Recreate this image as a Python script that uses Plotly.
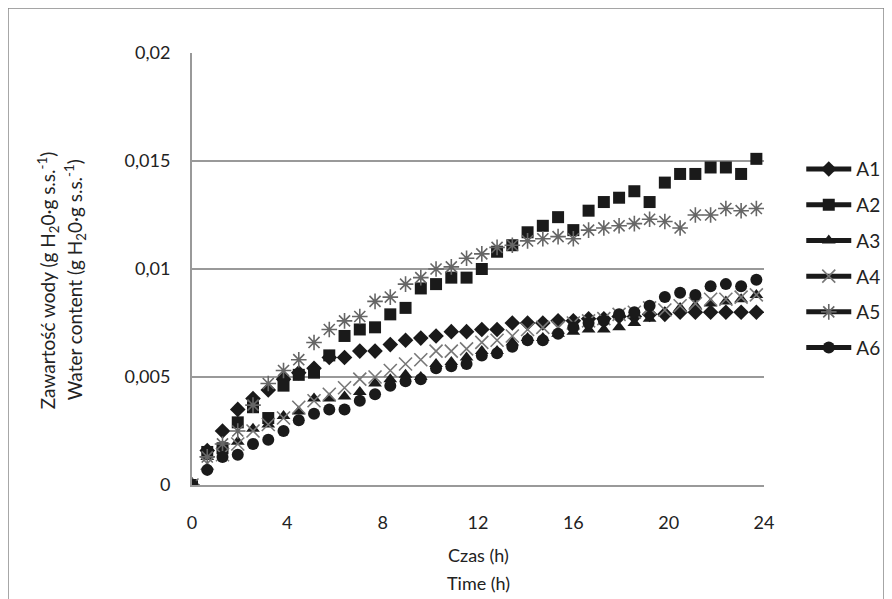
import plotly.graph_objects as go

# time points (h)
time_h = [round(i * 0.64, 2) for i in range(38)]

A1 = [0, 0.0016, 0.0025, 0.0035, 0.0040, 0.0044, 0.0049, 0.0052, 0.0054, 0.0059,
      0.0059, 0.0062, 0.0062, 0.0065, 0.0067, 0.0068, 0.0069, 0.0071, 0.0071, 0.0072,
      0.0072, 0.0075, 0.0075, 0.0075, 0.0076, 0.0076, 0.0077, 0.0077, 0.0078, 0.0078,
      0.0079, 0.0079, 0.0080, 0.0080, 0.0080, 0.0080, 0.0080, 0.0080]
A2 = [0, 0.00153, 0.0017, 0.0029, 0.0036, 0.0031, 0.0046, 0.0051, 0.0052, 0.0060,
      0.0069, 0.0072, 0.0073, 0.0079, 0.0082, 0.0091, 0.0093, 0.0096, 0.0096, 0.0100,
      0.0108, 0.0111, 0.0117, 0.0120, 0.0124, 0.0118, 0.0127, 0.0131, 0.0133, 0.0136,
      0.0131, 0.0140, 0.0144, 0.0144, 0.0147, 0.0147, 0.0144, 0.0151]
A3 = [0, 0.0013, 0.0018, 0.0020, 0.0026, 0.0028, 0.0032, 0.0034, 0.0040, 0.0040,
      0.0041, 0.0043, 0.0047, 0.0049, 0.0051, 0.0050, 0.0056, 0.0057, 0.0059, 0.0062,
      0.0062, 0.0066, 0.0068, 0.0068, 0.0070, 0.0071, 0.0072, 0.0072, 0.0073, 0.0075,
      0.0077, 0.0080, 0.0082, 0.0083, 0.0084, 0.0085, 0.0086, 0.0088]
A4 = [0, 0.0010, 0.0014, 0.0019, 0.0025, 0.0028, 0.0031, 0.0036, 0.0039, 0.0042,
      0.0045, 0.0049, 0.0050, 0.0053, 0.0056, 0.0058, 0.0062, 0.0062, 0.0063, 0.0066,
      0.0067, 0.0069, 0.0072, 0.0073, 0.0073, 0.0075, 0.0076, 0.0077, 0.0079, 0.0080,
      0.0082, 0.0081, 0.0083, 0.0084, 0.0086, 0.0086, 0.0087, 0.0088]
A5 = [0, 0.0013, 0.0019, 0.0025, 0.0037, 0.0047, 0.0053, 0.0058, 0.0066, 0.0072,
      0.0076, 0.0078, 0.0085, 0.0087, 0.0093, 0.0096, 0.0100, 0.0101, 0.0105, 0.0107,
      0.0110, 0.0111, 0.0113, 0.0114, 0.0115, 0.0114, 0.0118, 0.0119, 0.0120, 0.0121,
      0.0123, 0.0122, 0.0119, 0.0125, 0.0125, 0.0128, 0.0127, 0.0128]
A6 = [0, 0.0007, 0.0013, 0.0014, 0.0019, 0.0021, 0.0025, 0.0030, 0.0033, 0.0035,
      0.0035, 0.0039, 0.0042, 0.0046, 0.0048, 0.0049, 0.0054, 0.0055, 0.0056, 0.0060,
      0.0061, 0.0064, 0.0067, 0.0067, 0.0070, 0.0073, 0.0075, 0.0076, 0.0079, 0.0080,
      0.0083, 0.0087, 0.0089, 0.0088, 0.0092, 0.0093, 0.0092, 0.0095]

series_names = ["A1", "A2", "A3", "A4", "A5", "A6"]
series_values = [A1, A2, A3, A4, A5, A6]

x_ticks = [0, 4, 8, 12, 16, 20, 24]
y_tickvals = [0, 0.005, 0.01, 0.015, 0.02]
y_ticktext = ["0", "0,005", "0,01", "0,015", "0,02"]

styles = {
    "A1": dict(symbol="diamond", size=12, color="#1a1a1a", line=dict(width=0)),
    "A2": dict(symbol="square", size=12, color="#1a1a1a", line=dict(width=0)),
    "A3": dict(symbol="triangle-up", size=12, color="#1a1a1a", line=dict(width=0)),
    "A4": dict(symbol="x-thin", size=13, color="#777777", line=dict(width=1.6, color="#777777")),
    "A5": dict(symbol="asterisk", size=13, color="#666666", line=dict(width=1.6, color="#666666")),
    "A6": dict(symbol="circle", size=12, color="#1a1a1a", line=dict(width=0)),
}

FONT = "Lato, 'Open Sans', sans-serif"

fig = go.Figure()
for name, vals in zip(series_names, series_values):
    fig.add_trace(go.Scatter(x=time_h, y=vals, mode="markers", name=name,
                             marker=styles[name], showlegend=False))
# legend entries (line + marker like the original)
for name in series_names:
    st = dict(styles[name])
    fig.add_trace(go.Scatter(x=[None], y=[None], mode="lines+markers", name=name,
                             legendgroup=name,
                             line=dict(color="#1a1a1a", width=5),
                             marker=st, showlegend=True))

fig.update_layout(
    width=892, height=599,
    margin=dict(l=184, r=136, t=45, b=122),
    paper_bgcolor="white", plot_bgcolor="white",
    font=dict(family=FONT, size=17, color="#222222"),
    showlegend=True,
    legend=dict(x=1.212, y=0.775, xanchor="right", yanchor="top",
                font=dict(family=FONT, size=19, color="#222222"),
                tracegroupgap=8, itemwidth=45, bgcolor="rgba(0,0,0,0)"),
    xaxis=dict(range=[0, 24], tickvals=x_ticks, showgrid=False, zeroline=False,
               showline=True, linecolor="#999999", linewidth=2, ticks="",
               ticklabelstandoff=20, tickfont=dict(size=18)),
    yaxis=dict(range=[0, 0.02], tickvals=y_tickvals, ticktext=y_ticktext,
               showgrid=True, gridcolor="#999999", gridwidth=2, zeroline=False,
               showline=True, linecolor="#999999", linewidth=2, ticks="",
               ticklabelstandoff=16, tickfont=dict(size=18)),
    annotations=[
        dict(text="Czas (h)", x=0.5, y=-0.162, xref="paper", yref="paper",
             xanchor="center", yanchor="middle",
             showarrow=False, font=dict(size=18)),
        dict(text="Time (h)", x=0.5, y=-0.227, xref="paper", yref="paper",
             xanchor="center", yanchor="middle",
             showarrow=False, font=dict(size=18)),
        dict(text="Zawartość wody (g H<sub>2</sub>0·g s.s.<sup>-1</sup>)", x=-0.2517, y=0.474,
             xref="paper", yref="paper", xanchor="center", yanchor="middle",
             showarrow=False, textangle=-90, font=dict(size=19)),
        dict(text="Water content (g H<sub>2</sub>0·g s.s.<sup>-1</sup>)", x=-0.2045, y=0.474,
             xref="paper", yref="paper", xanchor="center", yanchor="middle",
             showarrow=False, textangle=-90, font=dict(size=19)),
    ],
    shapes=[dict(type="rect", xref="paper", yref="paper",
                 x0=-0.3217, x1=1.2098, y0=-0.3, y1=1.104,
                 line=dict(color="#888888", width=1.5), fillcolor="rgba(0,0,0,0)")],
)

fig.write_html("out.html")
